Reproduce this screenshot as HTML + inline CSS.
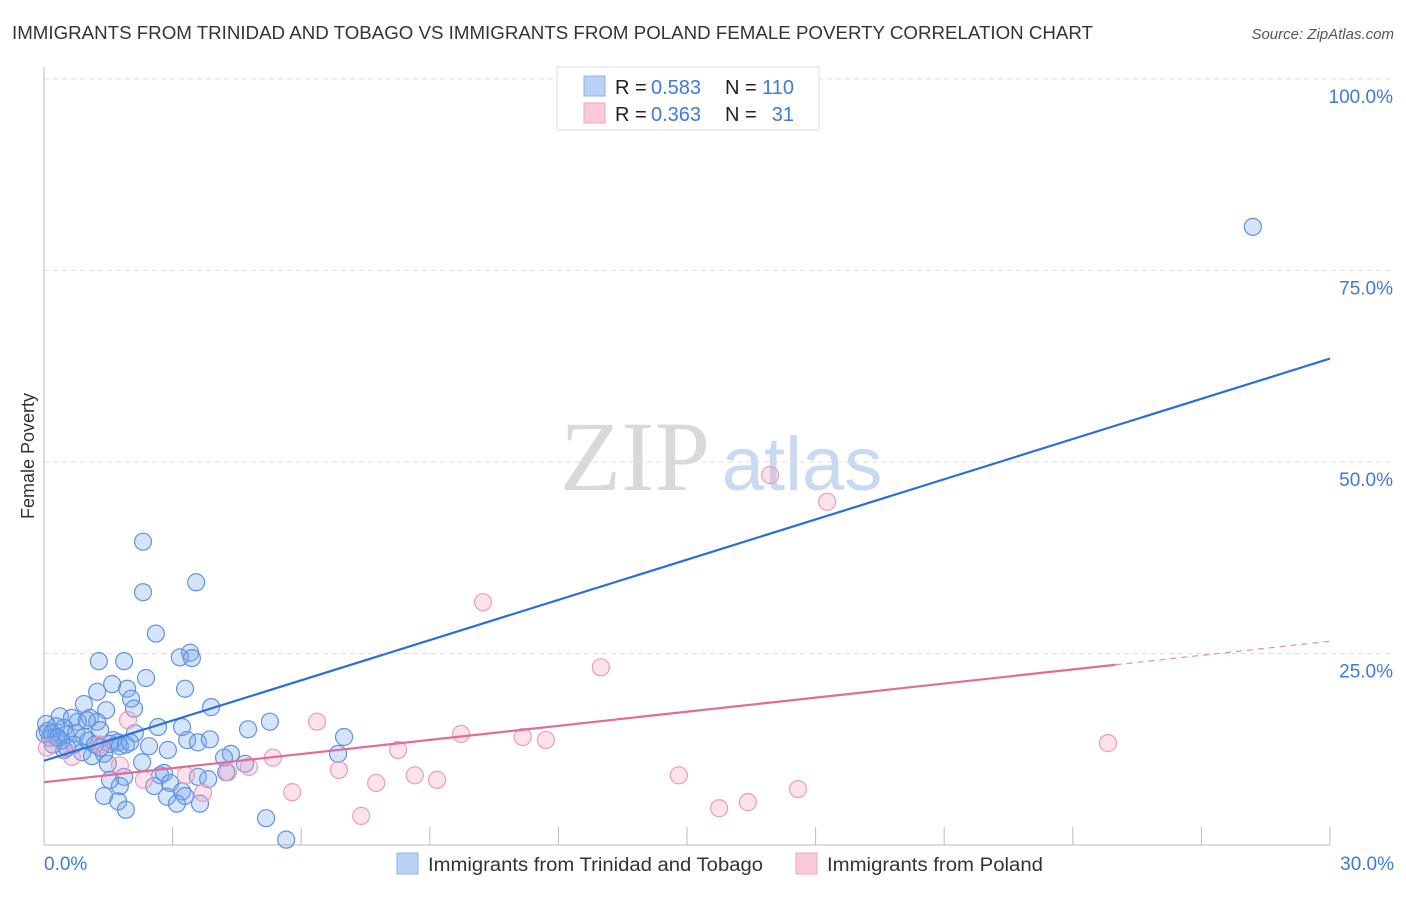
<!DOCTYPE html>
<html><head><meta charset="utf-8"><style>
body{margin:0;background:#fff;font-family:"Liberation Sans",sans-serif;}
</style></head><body>
<svg id="chart" width="1406" height="892" viewBox="0 0 1406 892" xmlns="http://www.w3.org/2000/svg" font-family="Liberation Sans, sans-serif">
<text x="12" y="39" font-size="18" fill="#333" textLength="1081" lengthAdjust="spacingAndGlyphs">IMMIGRANTS FROM TRINIDAD AND TOBAGO VS IMMIGRANTS FROM POLAND FEMALE POVERTY CORRELATION CHART</text>
<text x="1394" y="39" font-size="15" fill="#555" font-style="italic" text-anchor="end">Source: ZipAtlas.com</text>
<g>
<text x="635" y="490" font-size="100" fill="#d9d9d9" style="font-family:'Liberation Serif',serif" text-anchor="middle">ZIP</text>
<text x="802" y="490" font-size="76" fill="#c8daf2" text-anchor="middle">atlas</text>
</g>
<g id="grid"></g>
<g id="axes"></g>
<g id="marks"></g>
<text transform="translate(34,456) rotate(-90)" font-size="18" fill="#333" text-anchor="middle">Female Poverty</text>
<g>
<rect x="557" y="67" width="262" height="63" fill="#fff" stroke="#ddd"/>
<rect x="584" y="76" width="21" height="20" fill="#b8d1f5" stroke="#8db2ea"/>
<rect x="584" y="103" width="21" height="20" fill="#fcc9d8" stroke="#f0a4bd"/>
<text x="615" y="94" font-size="20" fill="#222">R =</text>
<text x="651" y="94" font-size="20" fill="#3d7bd9">0.583</text>
<text x="725" y="94" font-size="20" fill="#222">N =</text>
<text x="794" y="94" font-size="20" fill="#3d7bd9" text-anchor="end">110</text>
<text x="615" y="121" font-size="20" fill="#222">R =</text>
<text x="651" y="121" font-size="20" fill="#3d7bd9">0.363</text>
<text x="725" y="121" font-size="20" fill="#222">N =</text>
<text x="794" y="121" font-size="20" fill="#3d7bd9" text-anchor="end">31</text>
</g>
<g>
<rect x="397" y="853" width="21" height="21" fill="#b8d1f5" stroke="#8db2ea"/>
<text x="428" y="871" font-size="19" fill="#333" textLength="335" lengthAdjust="spacingAndGlyphs">Immigrants from Trinidad and Tobago</text>
<rect x="796" y="853" width="21" height="21" fill="#fcc9d8" stroke="#f0a4bd"/>
<text x="827" y="871" font-size="19" fill="#333" textLength="216" lengthAdjust="spacingAndGlyphs">Immigrants from Poland</text>
</g>
</svg>
<script>
const blueX=[2.31,2.31,3.55,2.61,3.41,3.17,3.45,1.28,1.87,2.38,3.29,1.94,1.24,1.59,2.03,0.93,3.90,2.10,1.45,0.37,0.65,1.07,1.24,0.79,1.00,5.27,3.22,2.66,0.05,0.28,0.47,1.31,2.12,4.76,7.00,0.51,0.75,0.93,1.61,1.73,1.91,2.45,2.89,3.34,3.59,3.87,0.14,0.28,0.02,0.40,0.70,0.89,1.12,1.40,0.47,1.54,4.36,4.20,6.86,2.29,1.49,2.71,2.80,3.59,3.83,4.25,4.69,2.57,2.94,3.22,3.29,2.87,3.64,3.10,1.87,1.54,1.77,1.40,1.73,1.91,5.18,5.65,28.2,0.09,0.19,0.33,0.54,1.03,1.19,1.77,2.01,0.21,1.31];
const blueY=[39.6,33.0,34.3,27.6,25.1,24.5,24.4,24.0,24.0,21.8,20.4,20.4,20.0,21.0,19.1,18.4,18.0,17.8,17.6,16.8,16.6,16.6,16.1,16.1,16.3,16.1,15.4,15.4,15.8,15.5,15.3,15.0,14.6,15.1,14.1,14.4,14.6,14.1,13.7,13.4,13.1,12.9,12.4,13.7,13.4,13.8,14.0,14.1,14.5,13.6,13.1,12.1,11.6,11.9,12.4,13.2,11.9,11.4,11.9,10.8,10.6,9.1,9.4,8.9,8.6,9.5,10.6,7.7,8.1,7.0,6.4,6.3,5.4,5.4,8.9,8.5,7.7,6.4,5.7,4.6,3.5,0.7,80.7,14.9,14.6,14.0,12.7,13.6,13.1,12.9,13.4,13.1,12.7];
const pinkX=[0.07,0.65,1.31,1.77,2.33,3.31,3.71,4.29,4.78,5.34,5.79,6.37,6.88,7.75,7.40,8.26,8.65,9.17,9.73,10.24,11.17,11.71,12.99,14.81,15.75,16.42,17.59,18.27,16.94,24.82,1.96];
const pinkY=[12.7,11.5,13.1,10.4,8.5,9.1,6.8,9.5,10.2,11.4,6.9,16.1,9.8,8.1,3.8,12.4,9.1,8.5,14.5,31.7,14.1,13.7,23.2,9.1,4.8,5.6,7.3,44.8,48.3,13.3,16.3];
const blueTrend=[11.0,63.5];
const pinkTrend=[8.2,26.6];
const pinkSolidEnd=25;
const yTicks=[25,50,75,100];
const yTickLabels=["25.0%","50.0%","75.0%","100.0%"];
const xTicks=[0,3,6,9,12,15,18,21,24,27,30];
const NS="http://www.w3.org/2000/svg";
const X0=44,X1=1330,Y0=845,Y100=79;
function sx(v){return X0+(X1-X0)*v/30;}
function sy(v){return Y0-(Y0-Y100)*v/100;}
function mk(tag,attrs,parent){const e=document.createElementNS(NS,tag);for(const k in attrs)e.setAttribute(k,attrs[k]);parent.appendChild(e);return e;}
const grid=document.getElementById('grid'),axes=document.getElementById('axes'),marks=document.getElementById('marks');
yTicks.forEach((t,i)=>{
 const l=mk('line',{x1:44,x2:1394,y1:sy(t),y2:sy(t),stroke:'#ddd','stroke-dasharray':'5,4'},grid);
 
 
 const tx=mk('text',{x:1393,y:sy(t)+24,'font-size':19,fill:'#3d7bd9','text-anchor':'end'},axes);
 tx.textContent=yTickLabels[i];
 
 
});
const ya=mk('line',{x1:44,x2:44,y1:67,y2:845,stroke:'#bbb'},axes);


const xa=mk('line',{x1:44,x2:1330,y1:845,y2:845,stroke:'#bbb'},axes);


xTicks.forEach(t=>{
 const l=mk('line',{x1:sx(t),x2:sx(t),y1:827,y2:845,stroke:'#bbb'},axes);
 
 
});
const xl0=mk('text',{x:44,y:870,'font-size':19,fill:'#3d7bd9'},axes);
xl0.textContent='0.0%';


const xl1=mk('text',{x:1394,y:870,'font-size':19,fill:'#3d7bd9','text-anchor':'end'},axes);
xl1.textContent='30.0%';


blueX.forEach((x,i)=>{
 const c=mk('circle',{cx:sx(x),cy:sy(blueY[i]),r:8.5,fill:'rgba(120,165,235,0.3)',stroke:'#5f93e2','stroke-width':1.2},marks);
 
 
});
pinkX.forEach((x,i)=>{
 const c=mk('circle',{cx:sx(x),cy:sy(pinkY[i]),r:8.5,fill:'rgba(245,160,190,0.3)',stroke:'#ec9cb8','stroke-width':1.2},marks);
 
 
});
const bt=mk('line',{x1:sx(0),y1:sy(blueTrend[0]),x2:sx(30),y2:sy(blueTrend[1]),stroke:'#2a6fd6','stroke-width':2.2},marks);


const pm=pinkTrend[0]+(pinkTrend[1]-pinkTrend[0])*pinkSolidEnd/30;
const pt=mk('line',{x1:sx(0),y1:sy(pinkTrend[0]),x2:sx(pinkSolidEnd),y2:sy(pm),stroke:'#e56a95','stroke-width':2.2},marks);


const pd=mk('line',{x1:sx(pinkSolidEnd),y1:sy(pm),x2:sx(30),y2:sy(pinkTrend[1]),stroke:'#eb8aab','stroke-width':1.2,'stroke-dasharray':'6,5'},marks);


</script>
</body></html>
